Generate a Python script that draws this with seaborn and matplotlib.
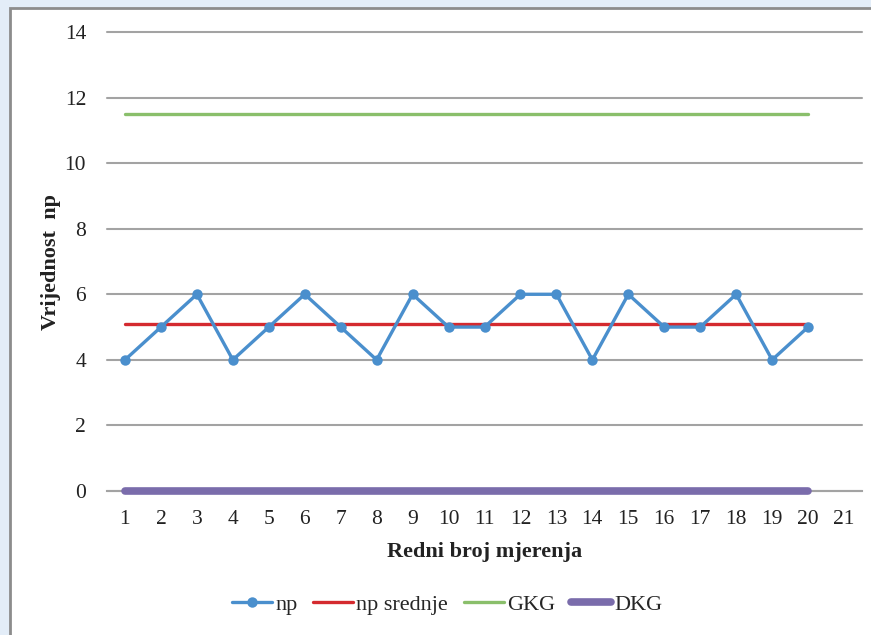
import matplotlib
matplotlib.use("Agg")
import matplotlib.pyplot as plt
import seaborn as sns
import pandas as pd
from matplotlib.patches import Rectangle
from matplotlib.lines import Line2D

# Data
x_labels = list(range(1, 22))
measurement = list(range(1, 21))
np_values = [4, 5, 6, 4, 5, 6, 5, 4, 6, 5, 5, 6, 6, 4, 6, 5, 5, 6, 4, 5]
np_mean = [5.1] * 20
gkg = [11.5] * 20
dkg = [0] * 20
y_ticks = [0, 2, 4, 6, 8, 10, 12, 14]

series_names = ["np", "np srednje", "GKG", "DKG"]
colors = {"np": "#4A8FCD", "np srednje": "#D42A2F", "GKG": "#8ABF6B", "DKG": "#7A6CAB"}

df = pd.DataFrame({
    "x": measurement * 4,
    "y": np_values + np_mean + gkg + dkg,
    "series": ["np"] * 20 + ["np srednje"] * 20 + ["GKG"] * 20 + ["DKG"] * 20,
})

sns.set_theme(style="white")
plt.rcParams["font.family"] = ["Liberation Serif", "DejaVu Serif"]

fig = plt.figure(figsize=(8.71, 6.35), dpi=100)
fig.patch.set_facecolor("#E3EDF8")
# chart frame
frame = Rectangle((10 / 871, -0.01), 1.0, 1 - 8 / 635 + 0.01, transform=fig.transFigure,
                  facecolor="white", edgecolor="#8C8C8C", linewidth=2, zorder=-5)
fig.patches.append(frame)

ax = fig.add_axes([107 / 871, 1 - 491 / 635, (862 - 107) / 871, (491 - 32) / 635])
ax.set_zorder(2)
ax.set_facecolor("none")

widths = {"np": 2.4, "np srednje": 2.4, "GKG": 2.4, "DKG": 5.5}
order_z = {"np": 5, "np srednje": 4, "GKG": 4, "DKG": 3}
for name in ["DKG", "GKG", "np srednje", "np"]:
    sub = df[df["series"] == name]
    sns.lineplot(data=sub, x="x", y="y", ax=ax, color=colors[name], linewidth=widths[name],
                 marker="o" if name == "np" else None, markersize=7.5 if name == "np" else 0,
                 markeredgewidth=0, legend=False, zorder=order_z[name],
                 solid_capstyle="round", clip_on=False)

ax.set_xlim(0.5, 21.5)
ax.set_ylim(0, 14)
ax.set_xticks(x_labels)
ax.set_xticklabels([str(v) for v in x_labels])
ax.set_yticks(y_ticks)
ax.yaxis.grid(True, color="#A3A3A3", linewidth=1.5)
for gl in ax.yaxis.get_gridlines():
    gl.set_clip_on(False)
ax.set_axisbelow(True)
for s in ["top", "right", "left"]:
    ax.spines[s].set_visible(False)
ax.spines["bottom"].set_color("#A3A3A3")
ax.spines["bottom"].set_linewidth(1.5)
ax.tick_params(axis="both", length=0, labelsize=15.5, colors="#222222")
ax.tick_params(axis="y", pad=15)
ax.tick_params(axis="x", pad=14)

ax.set_xlabel("Redni broj mjerenja", fontsize=16, fontweight="bold", color="#222222", labelpad=9)
ax.set_ylabel("Vrijednost  np", fontsize=16, fontweight="bold", color="#222222", labelpad=3)

handles = [
    Line2D([], [], color=colors["np"], linewidth=2.4, marker="o", markersize=7.5, markeredgewidth=0),
    Line2D([], [], color=colors["np srednje"], linewidth=2.4),
    Line2D([], [], color=colors["GKG"], linewidth=2.4),
    Line2D([], [], color=colors["DKG"], linewidth=5.5, solid_capstyle="round"),
]
fig.legend(handles, series_names, loc="center", bbox_to_anchor=(447 / 871, 1 - 605 / 635),
           ncol=4, frameon=False, fontsize=16, handlelength=1.8, handletextpad=0.15,
           columnspacing=0.7)

fig.savefig("out.png", dpi=100)
